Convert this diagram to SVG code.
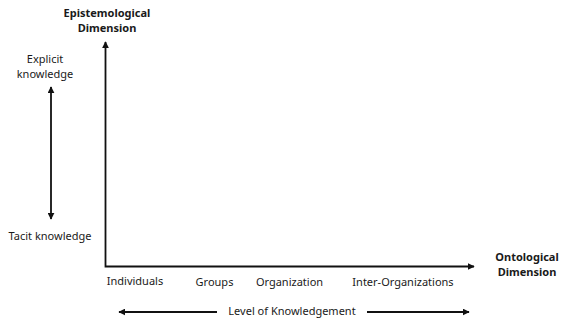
<svg xmlns="http://www.w3.org/2000/svg" width="564" height="321" viewBox="0 0 564 321">
<style>
text{font-family:"Noto Sans","Open Sans",sans-serif;font-size:11px;fill:#1a1a1a}
.b{font-weight:bold}
.ax{stroke:#111;stroke-width:1.8;fill:none}
</style>
<defs>
<marker id="ah" viewBox="0 0 10 10" refX="9" refY="5" markerWidth="7" markerHeight="7" orient="auto-start-reverse" markerUnits="userSpaceOnUse">
<path d="M0,0 L10,5 L0,10 z" fill="#111"/>
</marker>
</defs>
<rect width="564" height="321" fill="#fff"/>
<g id="connectors">
<path class="ax" d="M105.5,42 L105.5,266.5 L474,266.5" marker-start="url(#ah)" marker-end="url(#ah)"/>
<path class="ax" d="M51,87 L51,219" marker-start="url(#ah)" marker-end="url(#ah)"/>
<path class="ax" d="M217,312 L119,312" marker-end="url(#ah)"/>
<path class="ax" d="M367,312 L469,312" marker-end="url(#ah)"/>
</g>
<g id="epistemological"><text class="b" x="107" y="17" text-anchor="middle">Epistemological</text><text class="b" x="107" y="32" text-anchor="middle">Dimension</text></g>
<g id="explicit"><text x="45" y="63" text-anchor="middle">Explicit</text><text x="45" y="78" text-anchor="middle">knowledge</text></g>
<g id="tacit"><text x="50" y="240" text-anchor="middle">Tacit knowledge</text></g>
<g id="ontological"><text class="b" x="527" y="261" text-anchor="middle">Ontological</text><text class="b" x="527" y="276" text-anchor="middle">Dimension</text></g>
<g id="individuals"><text x="135" y="285" text-anchor="middle">Individuals</text></g>
<g id="groups"><text x="214.5" y="286" text-anchor="middle">Groups</text></g>
<g id="organization"><text x="289.5" y="286" text-anchor="middle">Organization</text></g>
<g id="interorg"><text x="403" y="286" text-anchor="middle">Inter-Organizations</text></g>
<g id="level"><text x="292" y="315" text-anchor="middle">Level of Knowledgement</text></g>
</svg>
